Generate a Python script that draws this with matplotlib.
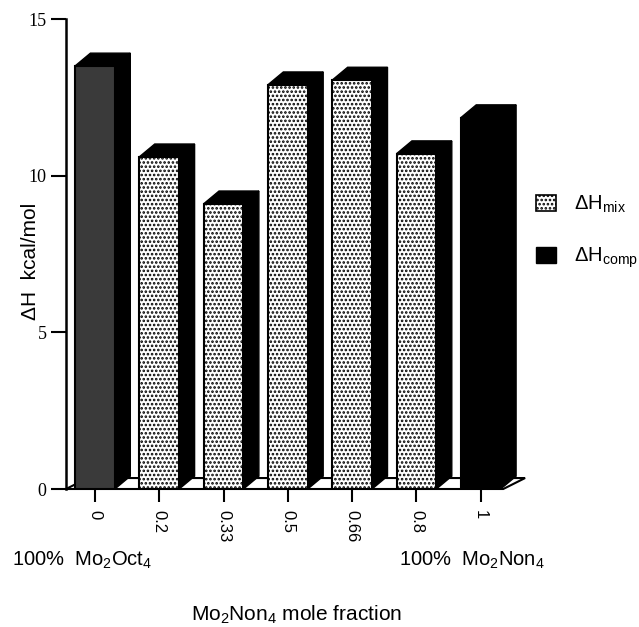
import matplotlib
matplotlib.use("Agg")
import matplotlib.pyplot as plt
from matplotlib.patches import Polygon, Patch
import numpy as np

plt.rcParams['font.family'] = ['Liberation Sans', 'DejaVu Sans']
plt.rcParams['mathtext.fontset'] = 'custom'
plt.rcParams['mathtext.rm'] = 'Liberation Sans'
plt.rcParams['mathtext.it'] = 'Liberation Sans:italic'
plt.rcParams['hatch.linewidth'] = 1.25

# mole fraction of Mo2Non4 and enthalpy (kcal/mol)
fractions = ['0', '0.2', '0.33', '0.5', '0.66', '0.8', '1']
dH = [13.5, 10.6, 9.1, 12.9, 13.05, 10.7, 11.85]
kind = ['comp', 'mix', 'mix', 'mix', 'mix', 'mix', 'comp']

yticks = [0, 5, 10, 15]

# look of the fake 3d boxes
bar_w = 0.62
dx, dy = 0.24, 0.41       # depth offset of bars
fdx, fdy = 0.34, 0.35     # depth offset of the floor

fig = plt.figure(figsize=(6.39, 6.27), dpi=100)
ax = fig.add_axes([66/639, 138/627, 573/639, 470/627])
ax.set_xlim(-0.45, -0.45 + 573/64.3)
ax.set_ylim(0, 15)

x = np.arange(len(dH))

# floor
x0, x1 = -0.45, 6.35
floor = Polygon([(x0, 0), (x1, 0), (x1 + fdx, fdy), (x0 + fdx, fdy)],
                closed=True, facecolor='white', edgecolor='black', lw=1.5,
                zorder=1, clip_on=False)
ax.add_patch(floor)

for i in range(len(dH)):
    h = dH[i]
    l = x[i] - bar_w/2
    r = x[i] + bar_w/2
    z = 2 + i*3
    side = Polygon([(r, 0), (r + dx, dy), (r + dx, h + dy), (r, h)],
                   closed=True, facecolor='black', edgecolor='black', lw=1,
                   zorder=z, clip_on=False)
    top = Polygon([(l, h), (l + dx, h + dy), (r + dx, h + dy), (r, h)],
                  closed=True, facecolor='black', edgecolor='black', lw=1,
                  zorder=z, clip_on=False)
    ax.add_patch(side)
    ax.add_patch(top)
    if kind[i] == 'mix':
        ax.bar(x[i], h, width=bar_w, facecolor='white', edgecolor='black',
               hatch='....', lw=1.5, zorder=z + 1)
    elif i == 0:
        ax.bar(x[i], h, width=bar_w, facecolor='#3a3a3a', edgecolor='black',
               lw=1.5, zorder=z + 1)
    else:
        ax.bar(x[i], h, width=bar_w, facecolor='black', edgecolor='black',
               lw=1.5, zorder=z + 1)

ax.spines['top'].set_visible(False)
ax.spines['right'].set_visible(False)
ax.spines['bottom'].set_visible(False)
ax.spines['left'].set_linewidth(1.8)
ax.spines['left'].set_bounds(0, 15)

ax.set_yticks(yticks)
ax.set_yticklabels([str(t) for t in yticks], family='Liberation Serif', fontsize=13)
ax.tick_params(axis='y', direction='out', length=11, width=1.5, pad=3)

ax.set_xticks(x)
ax.set_xticklabels(fractions, rotation=270, fontsize=12, va='top', ha='center')
ax.tick_params(axis='x', direction='out', length=9, width=1.5, pad=6)

fig.text(30/639, 1 - 261/627, 'ΔH  kcal/mol', rotation=90, fontsize=15,
         ha='center', va='center')
fig.text(12/639, 1 - 566/627, '100%  Mo$_2$Oct$_4$', fontsize=14.5, va='baseline')
fig.text(399/639, 1 - 566/627, '100%  Mo$_2$Non$_4$', fontsize=14.5, va='baseline')
fig.text(297/639, 1 - 621/627, 'Mo$_2$Non$_4$ mole fraction', fontsize=15,
         ha='center', va='baseline')

handles = [Patch(facecolor='white', edgecolor='black', hatch='....', lw=1.2),
           Patch(facecolor='black', edgecolor='black')]
ax.legend(handles, ['ΔH$_{\\mathrm{mix}}$', 'ΔH$_{\\mathrm{comp}}$'],
          loc='upper left', bbox_to_anchor=(518/639, 1 - 176/627),
          bbox_transform=fig.transFigure, frameon=False, fontsize=14.5,
          handlelength=1.0, handleheight=0.8, handletextpad=0.9,
          labelspacing=1.5)

fig.savefig('out.png', dpi=100)
